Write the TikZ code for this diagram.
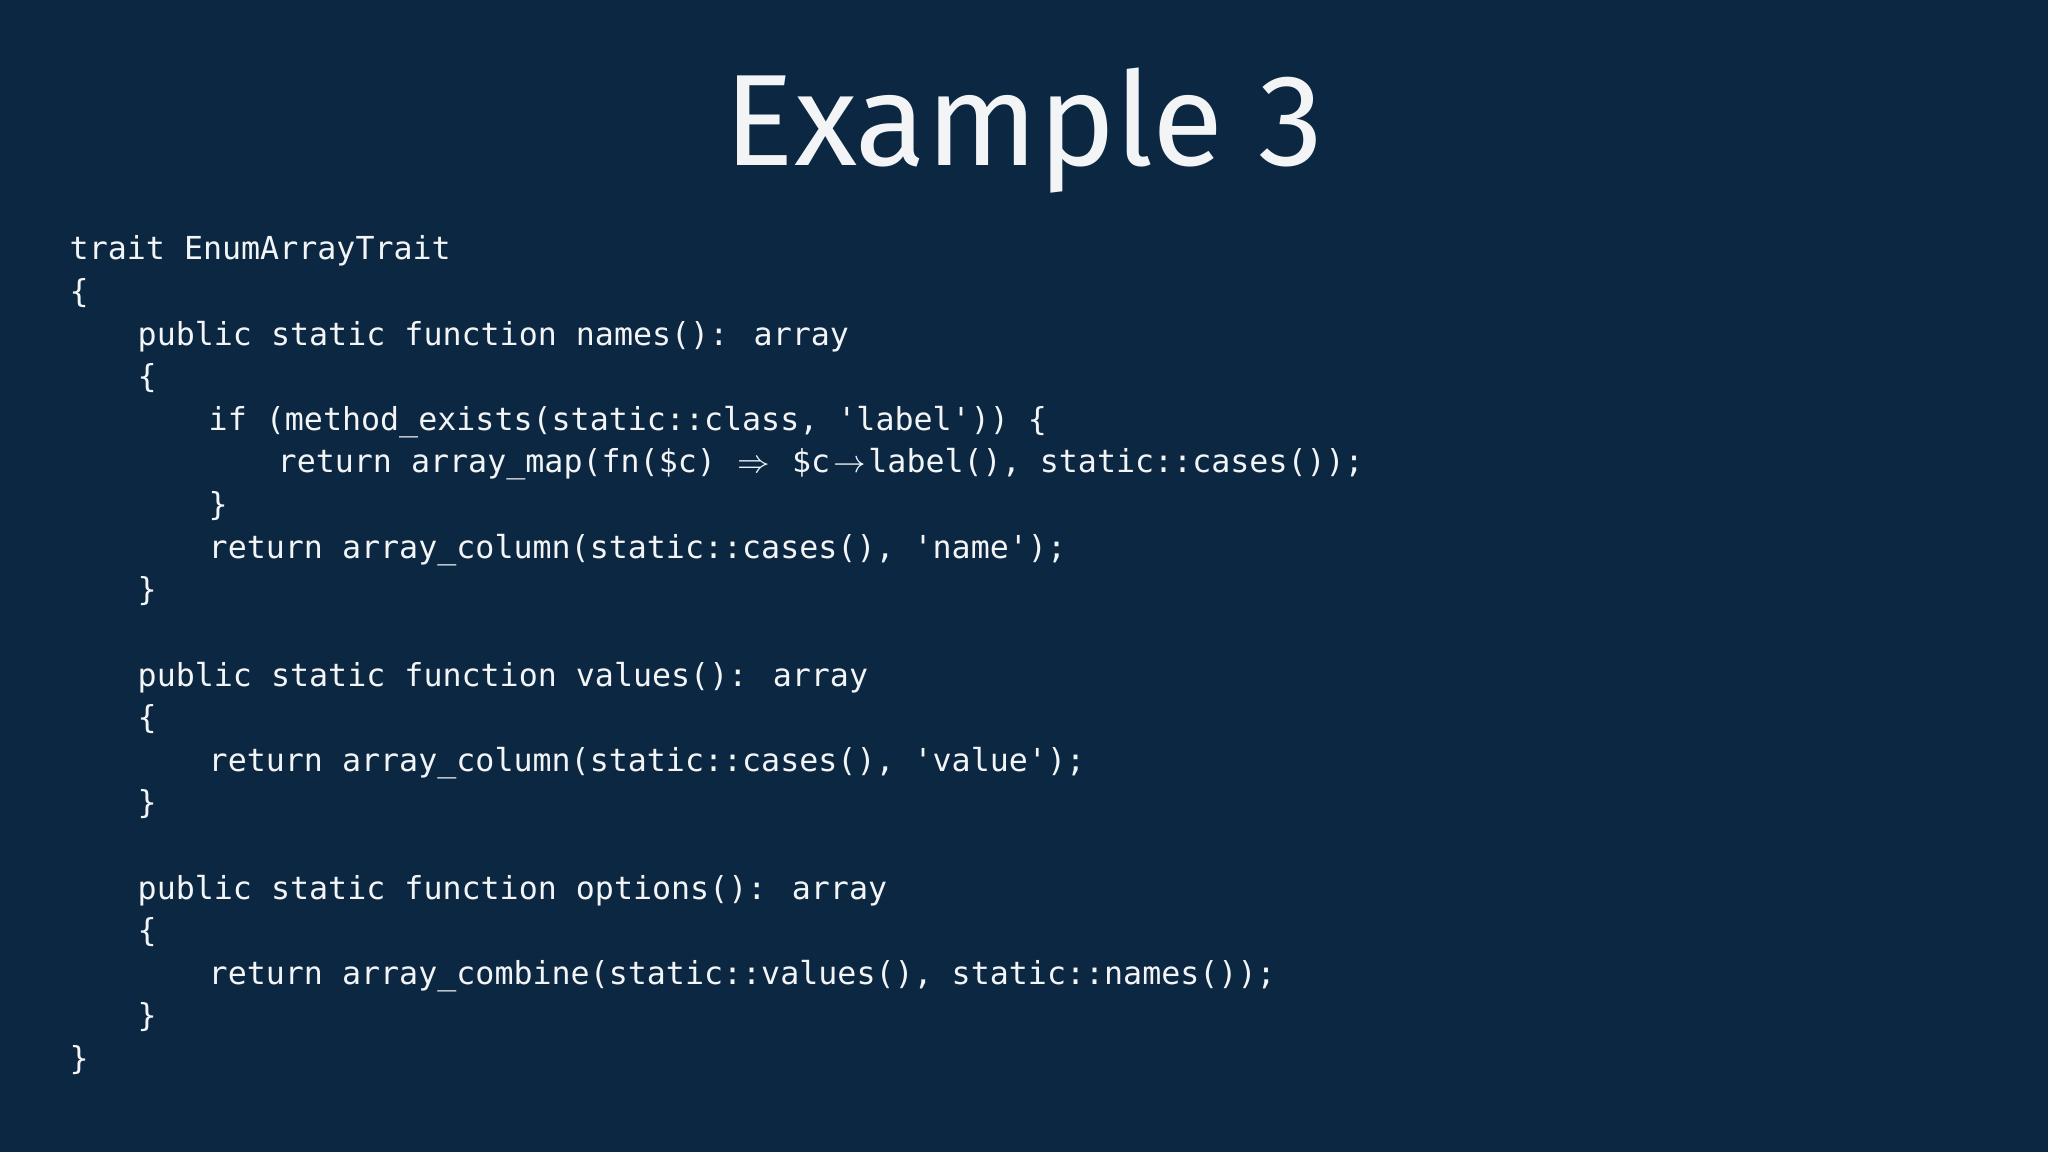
\documentclass[tikz,border=0pt]{standalone}
\usepackage{fontspec}
\newfontfamily\titlefont{Fira Sans}
\newfontfamily\codefont{DejaVu Sans Mono}
\definecolor{bg}{HTML}{0C2741}
\definecolor{fg}{HTML}{F2F4F6}
\newcommand\q{\char39\relax}
\newcommand\lig[1]{\makebox[1.204em]{#1}}
\newcommand\dc{\lig{::}}
\tikzset{codeline/.style={anchor=base west,inner sep=0pt,text=fg,font=\codefont\fontsize{9pt}{10pt}\selectfont}}
\begin{document}
\begin{tikzpicture}[x=0.01cm,y=-0.01cm]
\fill[bg] (0,0) rectangle (2048,1152);
\useasboundingbox (0,0) rectangle (2048,1152);
\node[text=fg,font=\titlefont\fontsize{37pt}{40pt}\selectfont,inner sep=0pt] (title) at (1024,131) {Example 3};
\def\L{42.6}
\node[codeline] (l1) at (69,260) {trait EnumArrayTrait};
\node[codeline] (l2) at (69,260+1*\L) {\{};
\node[codeline] (l3) at (137,260+2*\L) {public static function names(): array};
\node[codeline] (l4) at (137,260+3*\L) {\{};
\node[codeline] (l5) at (208,260+4*\L) {if (method\_exists(static\dc class, \q label\q)) \{};
\node[codeline] (l6) at (277,260+5*\L) {return array\_map(fn(\$c) \lig{$\Rightarrow$} \$c\lig{$\rightarrow$}label(), static\dc cases());};
\node[codeline] (l7) at (208,260+6*\L) {\}};
\node[codeline] (l8) at (208,260+7*\L) {return array\_column(static\dc cases(), \q name\q);};
\node[codeline] (l9) at (137,260+8*\L) {\}};
\node[codeline] (l10) at (137,260+10*\L) {public static function values(): array};
\node[codeline] (l11) at (137,260+11*\L) {\{};
\node[codeline] (l12) at (208,260+12*\L) {return array\_column(static\dc cases(), \q value\q);};
\node[codeline] (l13) at (137,260+13*\L) {\}};
\node[codeline] (l14) at (137,260+15*\L) {public static function options(): array};
\node[codeline] (l15) at (137,260+16*\L) {\{};
\node[codeline] (l16) at (208,260+17*\L) {return array\_combine(static\dc values(), static\dc names());};
\node[codeline] (l17) at (137,260+18*\L) {\}};
\node[codeline] (l18) at (69,260+19*\L) {\}};
\end{tikzpicture}
\end{document}
